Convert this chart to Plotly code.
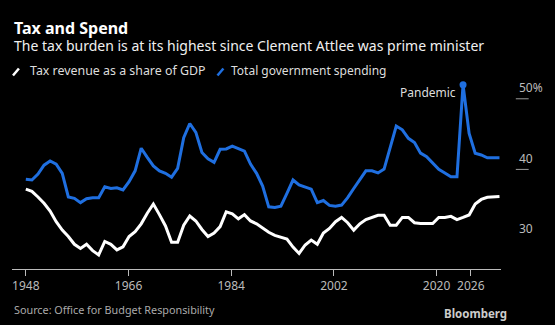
import plotly.graph_objects as go

# ---- data ----
years = list(range(1948, 2027))
tax_revenue = [37.2, 36.9, 36.1, 35.2, 34.1, 32.6, 31.4, 30.5, 29.4, 28.8,
               29.4, 28.5, 27.9, 29.8, 29.4, 28.6, 29.05, 30.5, 31.2, 32.3,
               33.8, 35.1, 33.6, 32.0, 29.7, 29.7, 32.1, 33.4, 32.7, 31.5,
               30.5, 31.0, 31.9, 34.0, 33.7, 33.0, 33.6, 32.7, 32.3, 31.65,
               31.1, 30.65, 30.4, 30.15, 29.0, 28.1, 29.3, 30.0, 29.4, 31.0,
               31.65, 32.6, 33.2, 32.45, 31.4, 32.3, 32.9, 33.2, 33.5, 33.5,
               32.1, 32.1, 33.2, 33.2, 32.45, 32.35, 32.3, 32.35, 33.2, 33.2,
               33.35, 32.9, 33.2, 33.55, 35.1, 35.75, 36.05, 36.05, 36.15]
spending = [38.6, 38.5, 39.35, 40.6, 41.2, 40.75, 39.45, 36.1, 35.9, 35.3,
            35.85, 36.0, 36.0, 37.55, 37.3, 37.4, 37.1, 38.26, 39.8, 43.0,
            41.7, 40.5, 39.8, 39.45, 38.9, 40.15, 44.5, 46.5, 45.25, 42.4,
            41.5, 41.0, 42.85, 42.9, 43.3, 42.9, 42.6, 40.75, 39.45, 37.65,
            34.7, 34.6, 34.8, 36.6, 38.5, 37.8, 37.45, 37.2, 35.3, 35.6,
            34.9, 34.8, 34.95, 36.0, 37.3, 38.5, 39.8, 39.8, 39.5, 40.05,
            43.2, 46.15, 45.6, 44.4, 43.8, 42.3, 41.8, 40.85, 40.0, 39.5,
            38.95, 38.95, 52.0, 45.1, 42.3, 42.05, 41.65, 41.65, 41.65]
tick_years = [1948, 1966, 1984, 2002, 2020, 2026]
y_ticks = [30, 40, 50]
y_ticktext = ["30", "40", "50%"]
pandemic_index = 72  # the highlighted (pandemic) data point

# tick labels in the original sit on a slightly compressed scale
TICK_SCALE = 0.9395
tick_pos = [years[0] + (t - years[0]) * TICK_SCALE for t in tick_years]

W, H = 555, 325
L, R, T, B = 12, 507, 80, 269
def px(x):
    return (x - L) / (R - L)
def py(y):
    return (B - y) / (B - T)

WHITE = "#ffffff"
BLUE = "#1f6fe0"
FONT = "Noto Sans"

fig = go.Figure()
fig.add_trace(go.Scatter(x=years, y=tax_revenue, mode="lines",
                         line=dict(color=WHITE, width=3), showlegend=False,
                         hoverinfo="skip"))
fig.add_trace(go.Scatter(x=years, y=spending, mode="lines",
                         line=dict(color=BLUE, width=3), showlegend=False,
                         hoverinfo="skip"))
fig.add_trace(go.Scatter(x=[years[pandemic_index]], y=[spending[pandemic_index]],
                         mode="markers", marker=dict(color=BLUE, size=7),
                         showlegend=False, cliponaxis=False, hoverinfo="skip"))

annotations = [
    dict(text="<b>Tax and Spend</b>", x=px(12), y=py(28.5), xref="paper", yref="paper",
         xanchor="left", yanchor="middle", showarrow=False,
         font=dict(family=FONT, size=16, color="#ffffff")),
    dict(text="The tax burden is at its highest since Clement Attlee was prime minister",
         x=px(12), y=py(45.5), xref="paper", yref="paper",
         xanchor="left", yanchor="middle", showarrow=False,
         font=dict(family=FONT, size=14, color="#f0f0f0")),
    dict(text="Tax revenue as a share of GDP", x=px(28), y=py(71), xref="paper", yref="paper",
         xanchor="left", yanchor="middle", showarrow=False,
         font=dict(family=FONT, size=12.4, color="#dddddd")),
    dict(text="Total government spending", x=px(232), y=py(71), xref="paper", yref="paper",
         xanchor="left", yanchor="middle", showarrow=False,
         font=dict(family=FONT, size=12, color="#dddddd")),
    dict(text="Pandemic", x=years[pandemic_index], y=spending[pandemic_index], xref="x", yref="y",
         xanchor="right", yanchor="middle", xshift=-5, yshift=-8, showarrow=False,
         font=dict(family=FONT, size=12, color="#dddddd")),
    dict(text="Source: Office for Budget Responsibility", x=px(12), y=py(309),
         xref="paper", yref="paper", xanchor="left", yanchor="middle", showarrow=False,
         font=dict(family=FONT, size=10.8, color="#aaaaaa")),
    dict(text="<b>Bloomberg</b>", x=px(515), y=py(313), xref="paper", yref="paper",
         xanchor="right", yanchor="middle", showarrow=False,
         font=dict(family=FONT, size=11.5, color="#cccccc")),
]

shapes = [
    dict(type="line", xref="paper", yref="paper", x0=px(13), x1=px(19), y0=py(75.5), y1=py(68.5),
         line=dict(color=WHITE, width=2.5)),
    dict(type="line", xref="paper", yref="paper", x0=px(220), x1=px(226), y0=py(75.5), y1=py(68.5),
         line=dict(color=BLUE, width=2.5)),
]
for v in y_ticks[1:]:
    shapes.append(dict(type="line", xref="paper", yref="y", x0=px(522), x1=px(535), y0=v, y1=v,
                       line=dict(color="#999999", width=1)))

fig.update_layout(
    width=W, height=H,
    margin=dict(l=L, r=W - R, t=T, b=H - B),
    paper_bgcolor="#000000", plot_bgcolor="#000000",
    showlegend=False,
    annotations=annotations, shapes=shapes,
    xaxis=dict(range=[years[0] - (26 - L) / 6.15, years[-1] + 0.25],
               tickvals=tick_pos, ticktext=[str(t) for t in tick_years],
               showgrid=False, zeroline=False, showline=True, linecolor="#bbbbbb", linewidth=1,
               ticks="outside", ticklen=6, tickcolor="#bbbbbb",
               tickfont=dict(family=FONT, size=12, color="#bbbbbb")),
    yaxis=dict(range=[25.9, 52.66], side="right", tickvals=y_ticks, ticktext=y_ticktext,
               showgrid=False, zeroline=False, showline=False, ticks="",
               ticklabelstandoff=17, ticklabelshift=-11,
               tickfont=dict(family=FONT, size=12, color="#bbbbbb")),
)

fig.write_html("out.html")
